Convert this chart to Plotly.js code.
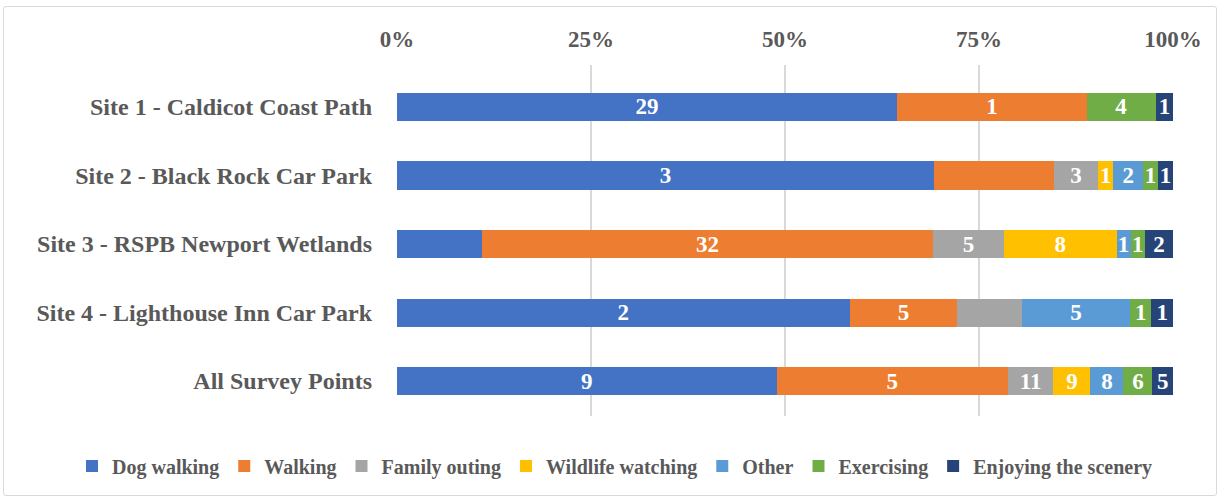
<!DOCTYPE html>
<html>
<head>
<meta charset="utf-8">
<script src="https://cdn.plot.ly/plotly-3.0.1.min.js"></script>
<style>
  html, body { margin: 0; padding: 0; background: #ffffff; }
  #frame { position: absolute; left: 3px; top: 6px; width: 1214px; height: 490px; border: 1px solid #d9d9d9; border-radius: 3px; box-sizing: border-box; }
  #chart { position: absolute; left: 0; top: 0; width: 1224px; height: 502px; }
</style>
</head>
<body>
<div id="frame"></div>
<div id="chart"></div>
<script>
// Categories (top to bottom)
const categories = [
  "Site 1 - Caldicot Coast Path",
  "Site 2 - Black Rock Car Park",
  "Site 3 - RSPB Newport Wetlands",
  "Site 4 - Lighthouse Inn Car Park",
  "All Survey Points"
];

// Series names and colours
const seriesNames = ["Dog walking", "Walking", "Family outing", "Wildlife watching", "Other", "Exercising", "Enjoying the scenery"];
const seriesColors = ["#4472C4", "#ED7D31", "#A5A5A5", "#FFC000", "#5B9BD5", "#70AD47", "#264478"];

// Counts per category
const dogWalking       = [29, 36, 6, 21, 92];
const walking          = [11, 8, 32, 5, 56];
const familyOuting     = [0, 3, 5, 3, 11];
const wildlifeWatching = [0, 1, 8, 0, 9];
const other            = [0, 2, 1, 5, 8];
const exercising       = [4, 1, 1, 1, 7];
const enjoyingScenery  = [1, 1, 2, 1, 5];

// Data labels as displayed in the reference
const dogWalkingLabels       = ["29", "3", "", "2", "9"];
const walkingLabels          = ["1", "", "32", "5", "5"];
const familyOutingLabels     = ["", "3", "5", "", "11"];
const wildlifeWatchingLabels = ["", "1", "8", "", "9"];
const otherLabels            = ["", "2", "1", "5", "8"];
const exercisingLabels       = ["4", "1", "1", "1", "6"];
const enjoyingSceneryLabels  = ["1", "1", "2", "1", "5"];

// Axis ticks
const tickValues = [0, 25, 50, 75, 100];
const tickLabels = ["0%", "25%", "50%", "75%", "100%"];

const seriesValues = [dogWalking, walking, familyOuting, wildlifeWatching, other, exercising, enjoyingScenery];
const seriesLabels = [dogWalkingLabels, walkingLabels, familyOutingLabels, wildlifeWatchingLabels, otherLabels, exercisingLabels, enjoyingSceneryLabels];

const FONT = "'Liberation Serif', 'DejaVu Serif', serif";

const traces = seriesNames.map((name, i) => ({
  type: "bar",
  orientation: "h",
  name: name,
  y: categories,
  x: seriesValues[i],
  text: seriesLabels[i],
  texttemplate: "%{text}",
  textposition: "inside",
  insidetextanchor: "middle",
  textangle: 0,
  textfont: { family: FONT, size: 23, color: "#ffffff", weight: "bold" },
  marker: { color: seriesColors[i], line: { width: 0 } },
  hoverinfo: "name+x"
}));

const PLOT_L = 397, PLOT_W = 776, PLOT_T = 65, PLOT_H = 351;

const layout = {
  width: 1224,
  height: 502,
  barmode: "stack",
  barnorm: "percent",
  bargap: 0.59,
  paper_bgcolor: "rgba(0,0,0,0)",
  plot_bgcolor: "rgba(0,0,0,0)",
  margin: { l: PLOT_L, r: 1224 - PLOT_L - PLOT_W, t: PLOT_T, b: 502 - PLOT_T - PLOT_H, autoexpand: false },
  uniformtext: { mode: "show", minsize: 23 },
  font: { family: FONT, color: "#595959" },
  xaxis: {
    side: "top",
    range: [0, 100],
    tickvals: tickValues,
    ticktext: tickLabels,
    tickfont: { family: FONT, size: 23, color: "#595959", weight: "bold" },
    showgrid: true,
    gridcolor: "#d9d9d9",
    gridwidth: 1.5,
    zeroline: false,
    showline: false,
    ticks: "",
    ticklabelstandoff: 12,
    fixedrange: true
  },
  yaxis: {
    type: "category",
    range: [4.51, -0.613],
    tickfont: { family: FONT, size: 24, color: "#595959", weight: "bold" },
    showgrid: false,
    zeroline: false,
    showline: false,
    ticks: "",
    ticklabelstandoff: 24,
    fixedrange: true
  },
  showlegend: true,
  legend: {
    orientation: "h",
    x: (72 - PLOT_L) / PLOT_W,
    xanchor: "left",
    y: -(466 - (PLOT_T + PLOT_H)) / PLOT_H,
    yanchor: "middle",
    font: { family: FONT, size: 20, color: "#595959", weight: "bold" },
    itemwidth: 30,
    traceorder: "normal",
    tracegroupgap: 0,
    bgcolor: "rgba(0,0,0,0)"
  }
};

Plotly.newPlot("chart", traces, layout, { displayModeBar: false, staticPlot: true });
</script>
</body>
</html>
